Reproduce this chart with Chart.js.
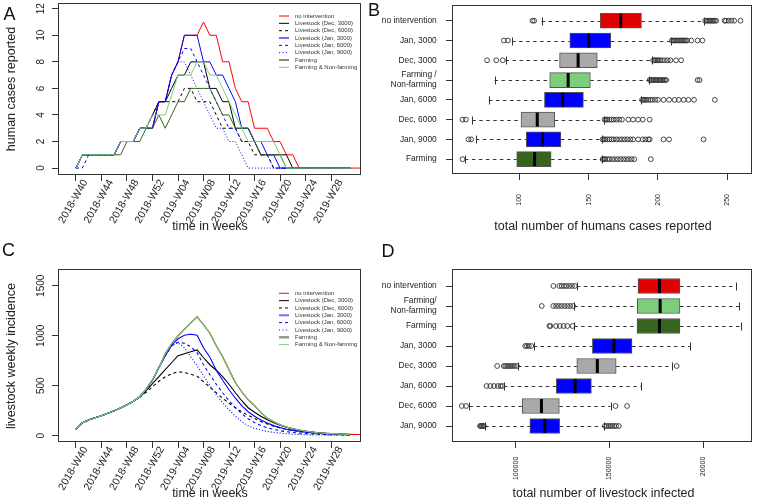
<!DOCTYPE html>
<html><head><meta charset="utf-8">
<script src="https://cdn.jsdelivr.net/npm/chart.js@4.4.1/dist/chart.umd.min.js"></script>
<style>
html,body{margin:0;padding:0;background:#fff;}
#wrap{position:relative;width:757px;height:500px;overflow:hidden;background:#fff;}
#wrap canvas{position:absolute;left:0;top:0;}
</style></head><body>
<div id="wrap">
<canvas id="cA" width="757" height="500"></canvas>
<canvas id="cB" width="757" height="500"></canvas>
<canvas id="cC" width="757" height="500"></canvas>
<canvas id="cD" width="757" height="500"></canvas>
</div>
<script>
// ================= DATA =================
const weekTickPos = [0, 4, 8, 12, 16, 20, 24, 28, 32, 36, 40];
const weekTickLabels = ['2018-W40','2018-W44','2018-W48','2018-W52','2019-W04','2019-W08','2019-W12','2019-W16','2019-W20','2019-W24','2019-W28'];
const scenarioNames = ['no intervention','Livestock (Dec, 3000)','Livestock (Dec, 6000)','Livestock (Jan, 3000)','Livestock (Jan, 6000)','Livestock (Jan, 9000)','Farming','Farming & Non-farming'];

// panel A: human cases reported per week (week index 0 = 2018-W40)
const humanNoIntervention = [0,1,1,1,1,1,1,2,2,2, 3,3,3,5,5,7,8,10,10,10, 11,10,10,8,8,6,5,5,3,3, 3,2,2,1,1,0,0,0,0,0, 0,0,0,0,0,0];
const humanDec3000 = [0,1,1,1,1,1,1,2,2,2, 3,3,4,5,5,6,7,7,8,8, 8,6,6,5,5,3,3,3,2,1, 1,1,1,1,0,0,0,0,0,0, 0,0,0,0];
const humanDec6000 = [0,1,1,1,1,1,1,2,2,2, 3,3,4,5,5,5,5,6,6,5, 5,5,4,3,3,3,2,2,1,1, 1,0,0,0,0,0,0,0,0,0, 0,0,0,0];
const humanJan3000 = [0,1,1,1,1,1,1,2,2,2, 3,3,3,5,5,7,8,10,10,10, 8,8,7,7,6,5,3,3,2,2, 1,1,0,0,0,0,0,0,0,0, 0,0,0,0];
const humanJan6000 = [0,0,1,1,1,1,1,2,2,2, 3,3,3,5,5,7,8,9,9,8, 7,6,5,4,3,3,2,2,2,1, 1,0,0,0,0,0,0,0,0,0, 0,0,0,0];
const humanJan9000 = [0,1,1,1,1,1,1,2,2,2, 3,3,3,5,5,7,8,8,7,6, 5,4,3,3,2,2,1,0,0,0, 0,0,0,0,0,0,0,0,0,0, 0,0,0,0];
const humanFarming = [0,1,1,1,1,1,1,1,2,2, 2,3,3,4,3,4,5,5,6,6, 6,6,5,4,4,3,3,3,2,1, 1,1,1,0,0,0,0,0,0,0, 0,0,0,0];
const humanFarmNonFarm = [0,1,1,1,1,1,1,2,2,2, 3,3,4,4,4,5.5,7,7,7,8, 8,7,7,6,5,4,3,2,2,2, 2,2,1,0,0,0,0,0,0,0, 0,0,0,0];
const humanYTicks = [0, 2, 4, 6, 8, 10, 12];

// panel C: livestock weekly incidence
const livestockNoIntervention = [63,130,157,180,200,225,250,278,310,345, 390,465,560,680,820,920,1000,1064,1128,1190, 1110,1025,900,790,660,530,440,360,300,230, 175,140,110,88,70,57,46,37,30,25, 21,18,15,13,12,11];
const livestockDec3000 = [63,130,157,180,200,225,250,278,310,345, 385,450,520,590,660,730,800,820,840,858, 780,710,655,590,515,430,350,280,235,195, 160,130,105,85,68,55,45,37,30,25, 20,17,14,12];
const livestockDec6000 = [63,130,157,180,200,225,250,278,310,345, 385,435,490,545,590,620,640,632,615,595, 540,485,430,375,325,280,240,205,172,142, 117,96,78,63,51,42,34,28,23,19, 16,13,11,10];
const livestockJan3000 = [63,130,157,180,200,225,250,278,310,345, 390,465,555,680,800,905,970,1005,1015,1005, 880,785,655,555,460,375,300,240,195,158, 127,101,81,65,53,44,36,30,25,21, 17,15,13,11];
const livestockJan6000 = [63,130,157,180,200,225,250,278,310,345, 390,465,555,680,800,900,935,925,890,830, 710,610,515,430,350,280,220,170,132,102, 80,63,50,40,32,26,21,17,14,12, 10,8,7,6];
const livestockJan9000 = [63,130,157,180,200,225,250,278,310,345, 390,465,555,680,800,900,930,880,790,700, 600,500,410,330,260,195,140,100,74,56, 43,33,26,20,16,13,10,8,7,6, 5,4,4,3];
const livestockFarming = [63,130,157,180,200,225,250,278,310,345, 390,465,560,680,820,920,1000,1064,1128,1190, 1110,1025,900,790,660,530,440,360,300,230, 175,140,110,88,70,57,46,37,30,25, 21,18,15,13];
const livestockFarmNonFarm = [63,130,157,180,200,225,250,278,310,345, 390,465,560,680,820,920,1000,1064,1128,1190, 1110,1025,900,790,660,530,440,360,300,230, 175,140,110,88,70,57,46,37,30,25, 21,18,15,13];
const livestockYTicks = [0, 500, 1000, 1500];

// panel B: total human cases, [lower whisker, Q1, median, Q3, upper whisker]
const humanBoxLabels = ['no intervention','Jan, 3000','Dec, 3000','Farming /\nNon-farming','Jan, 6000','Dec, 6000','Jan, 9000','Farming'];
const humanBoxStats = [
  [116, 158.3, 173.1, 188.1, 233],
  [94.8, 136.4, 150, 166, 209.5],
  [90, 129, 142.4, 156.2, 195.7],
  [82.1, 121.9, 135.2, 151.2, 193.6],
  [78.1, 118.1, 131.2, 146.2, 188],
  [66, 101.2, 112.9, 125.5, 161.2],
  [68.6, 105, 116.7, 130, 159.5],
  [60.7, 98.1, 111, 122.9, 159.5]
];
const humanBoxOutliers = [
  [109.5, 110.7, 234, 235, 236, 237, 238, 239, 240, 241, 242, 248, 249, 251, 253, 255, 259.5],
  [88.8, 91.7, 210, 211, 212, 213, 214, 215, 216, 217, 218, 219, 220, 221, 224, 228.6, 232],
  [76.7, 83.3, 88, 196.5, 197.5, 198.5, 199.5, 200.5, 201.5, 203, 205, 207, 209, 213, 216.7],
  [194, 195, 196, 197, 198, 199, 200, 201, 202, 203, 204, 205, 206, 228.6, 230],
  [188.5, 189.5, 190.5, 191.5, 193, 194.5, 196, 198, 200, 204, 208, 212, 215, 218.6, 222, 226, 241],
  [59, 61.4, 161.5, 162.5, 163.5, 165, 166.5, 168, 170, 172, 174, 178.6, 182, 185.7, 189, 194],
  [63.3, 65.2, 160, 161, 162, 163.5, 165, 166.5, 168, 170, 172, 174, 176, 178, 180, 182, 185.7, 189, 191, 193, 194, 204, 208, 232.9],
  [59, 160, 161, 162, 163.5, 165, 167, 169, 171, 173, 175, 177, 179, 181, 182.9, 194.8]
];
const humanBoxTicks = [100, 150, 200, 250];
const humanBoxTickLabels = ['100', '150', '200', '250'];

// panel D: total livestock infected
const livestockBoxLabels = ['no intervention','Farming/\nNon-farming','Farming','Jan, 3000','Dec, 3000','Jan, 6000','Dec, 6000','Jan, 9000'];
const livestockBoxStats = [
  [132570, 165140, 176590, 187500, 217080],
  [131160, 164790, 176940, 187500, 218840],
  [131160, 164600, 176600, 187500, 220070],
  [109500, 140850, 152290, 161970, 192780],
  [101230, 132570, 143490, 153520, 183100],
  [93660, 121650, 131690, 140320, 166730],
  [75350, 103520, 113730, 123240, 150530],
  [83800, 107570, 115490, 123420, 147000]
];
const livestockBoxOutliers = [
  [120070, 123240, 124500, 125800, 127000, 128500, 130000, 131500],
  [113900, 120000, 121500, 123000, 124500, 126000, 127500, 129000, 130600],
  [117960, 118500, 121500, 123500, 125500, 127500, 130280],
  [105100, 106000, 107000, 108300],
  [90140, 93660, 94500, 95500, 96500, 97500, 98500, 99500, 100700, 185740],
  [84500, 86500, 88500, 90500, 92000, 92960],
  [71300, 73600, 153170, 159330],
  [81000, 81500, 82000, 82600, 83100, 147500, 148500, 149500, 150500, 151500, 152500, 153500, 154930]
];
const livestockBoxTicks = [100000, 150000, 200000];
const livestockBoxTickLabels = ['100000', '150000', '20000'];

// ================= STYLE =================
const W = 757, H = 500, AX = 8;
const FONT = '"Liberation Sans", Arial, Helvetica, sans-serif';
const INK = '#222';
const RED = '#ff0000', BLUE = '#0000ff', DKGREEN = '#35641f', LTGREEN = '#7ccd7c';
const lineStyles = [
  {color: RED, dash: []},
  {color: '#000000', dash: []},
  {color: '#000000', dash: [3, 3]},
  {color: BLUE, dash: []},
  {color: BLUE, dash: [3, 3]},
  {color: BLUE, dash: [1, 2]},
  {color: DKGREEN, dash: []},
  {color: LTGREEN, dash: []}
];
const legendStylesA = [
  {c: RED, w: 1}, {c: '#000', w: 1}, {c: '#000', w: 1, d: [3, 3]}, {c: '#7070ff', w: 2},
  {c: BLUE, w: 1, d: [3, 3]}, {c: BLUE, w: 1, d: [1, 2.5]}, {c: '#5c7b4c', w: 1.6}, {c: LTGREEN, w: 1}
];
const legendStylesC = [
  {c: RED, w: 1}, {c: '#000', w: 1}, {c: '#000', w: 1, d: [3, 3]}, {c: '#7070ff', w: 2},
  {c: BLUE, w: 1, d: [3, 3]}, {c: BLUE, w: 1, d: [1, 2.5]}, {c: '#8a9a7a', w: 2.4}, {c: LTGREEN, w: 1}
];
const boxColorsB = ['#e00000', BLUE, '#a9a9a9', LTGREEN, BLUE, '#a9a9a9', BLUE, DKGREEN];
const boxColorsD = ['#e00000', LTGREEN, DKGREEN, BLUE, '#a9a9a9', BLUE, '#a9a9a9', BLUE];

// ================= HELPERS =================
function txt(ctx, s, x, y, size, opt) {
  opt = opt || {};
  ctx.save();
  ctx.font = size + 'px ' + FONT;
  ctx.fillStyle = opt.color || INK;
  ctx.textAlign = opt.align || 'center';
  ctx.textBaseline = opt.baseline || 'middle';
  ctx.translate(x, y);
  if (opt.rot) ctx.rotate(opt.rot);
  ctx.fillText(s, 0, 0);
  ctx.restore();
}
function seg(ctx, x1, y1, x2, y2) { ctx.beginPath(); ctx.moveTo(x1, y1); ctx.lineTo(x2, y2); ctx.stroke(); }

const framePlugin = {
  id: 'frame',
  afterDatasetsDraw(chart) {
    const {ctx, chartArea: a} = chart;
    ctx.save();
    ctx.strokeStyle = '#333'; ctx.lineWidth = 1; ctx.setLineDash([]);
    const l = Math.round(a.left) + 0.5, t = Math.round(a.top) + 0.5, r = Math.round(a.right) - 0.5, b = Math.round(a.bottom) - 0.5;
    ctx.strokeRect(l, t, r - l, b - t);
    ctx.restore();
  }
};

function axisOpts(position, min, max, tickVals, reverse) {
  return {
    type: 'linear', position, min, max, reverse: !!reverse, offset: false,
    afterBuildTicks: s => { s.ticks = tickVals.map(v => ({value: v})); },
    afterFit: s => { if (position === 'bottom') s.height = AX; else s.width = AX; },
    ticks: {display: false},
    grid: {display: true, offset: false, drawOnChartArea: false, drawTicks: true, tickLength: 6, color: '#333', tickColor: '#333', lineWidth: 1},
    border: {display: false}
  };
}

function makeLineChart(id, series, cfg) {
  const a = cfg.area;
  const datasets = series.map((vals, i) => ({
    label: scenarioNames[i],
    data: vals.map((v, k) => ({x: k, y: v})),
    borderColor: lineStyles[i].color,
    borderDash: lineStyles[i].dash,
    borderWidth: cfg.lineWidth,
    pointRadius: 0, tension: 0, fill: false,
    order: series.length - i
  }));
  const decor = {
    id: 'decor' + id,
    afterDraw(chart) {
      const ctx = chart.ctx, xs = chart.scales.x, ys = chart.scales.y, ca = chart.chartArea;
      cfg.yTicks.forEach(v => txt(ctx, String(v), cfg.yLabelX, ys.getPixelForValue(v), 10, {rot: -Math.PI / 2}));
      weekTickPos.forEach((p, i) => txt(ctx, weekTickLabels[i], xs.getPixelForValue(p) + 9.5, ca.bottom + 5.5, 10.5, {rot: -Math.PI / 3, align: 'right'}));
      txt(ctx, 'time in weeks', cfg.xTitle[0], cfg.xTitle[1], 12.5);
      txt(ctx, cfg.yTitle, cfg.yTitlePos[0], cfg.yTitlePos[1], 12.5, {rot: -Math.PI / 2});
      // legend
      cfg.legend.forEach((st, i) => {
        const y = cfg.legendTop + i * 7.33;
        ctx.save();
        ctx.strokeStyle = st.c; ctx.lineWidth = st.w; ctx.setLineDash(st.d || []);
        seg(ctx, 279, y, 289, y);
        ctx.restore();
        txt(ctx, scenarioNames[i], 295, y, 6, {align: 'left', color: '#333'});
      });
      cfg.letters.forEach(L => txt(ctx, L[0], L[1], L[2], 18, {color: '#111'}));
    }
  };
  return new Chart(document.getElementById(id), {
    type: 'line',
    data: {datasets},
    options: {
      responsive: false, animation: false, events: [],
      layout: {padding: {left: a.left - AX, top: a.top, right: W - a.right, bottom: H - a.bottom - AX}},
      plugins: {legend: {display: false}, tooltip: {enabled: false}},
      scales: {
        x: axisOpts('bottom', cfg.xMin, cfg.xMax, weekTickPos),
        y: axisOpts('left', cfg.yMin, cfg.yMax, cfg.yTicks)
      }
    },
    plugins: [framePlugin, decor]
  });
}

function makeBoxChart(id, names, stats, outliers, colors, cfg) {
  const a = cfg.area;
  const rows = names.map((n, i) => i + 1);
  const whiskers = {
    id: 'whisk' + id,
    beforeDatasetsDraw(chart) {
      const ctx = chart.ctx, xs = chart.scales.x, ys = chart.scales.y;
      ctx.save();
      ctx.strokeStyle = '#333'; ctx.lineWidth = 1;
      stats.forEach((s, i) => {
        const y = Math.round(ys.getPixelForValue(rows[i])) + 0.5;
        ctx.setLineDash([3.5, 3.5]);
        seg(ctx, xs.getPixelForValue(s[0]), y, xs.getPixelForValue(s[1]), y);
        seg(ctx, xs.getPixelForValue(s[3]), y, xs.getPixelForValue(s[4]), y);
        ctx.setLineDash([]);
        [s[0], s[4]].forEach(v => { const x = Math.round(xs.getPixelForValue(v)) + 0.5; seg(ctx, x, y - 4, x, y + 4); });
      });
      ctx.restore();
    },
    afterDatasetsDraw(chart) {
      const ctx = chart.ctx, xs = chart.scales.x, ys = chart.scales.y;
      ctx.save();
      ctx.strokeStyle = '#000'; ctx.lineWidth = 3; ctx.setLineDash([]);
      stats.forEach((s, i) => {
        const y = ys.getPixelForValue(rows[i]);
        const x = xs.getPixelForValue(s[2]);
        seg(ctx, x, y - 7, x, y + 7);
      });
      ctx.restore();
    }
  };
  const decor = {
    id: 'decor' + id,
    afterDraw(chart) {
      const ctx = chart.ctx, xs = chart.scales.x, ys = chart.scales.y;
      names.forEach((n, i) => {
        const parts = n.split('\n');
        const py = ys.getPixelForValue(rows[i]);
        parts.forEach((p, j) => txt(ctx, p, cfg.catLabelX, py + (j - (parts.length - 1) / 2) * 10, 8.4, {align: 'right'}));
      });
      cfg.xTicks.forEach((v, i) => txt(ctx, cfg.xTickLabels[i], xs.getPixelForValue(v), cfg.tickLabelEndY, 7, {rot: -Math.PI / 2, align: 'right'}));
      txt(ctx, cfg.xTitle, cfg.xTitlePos[0], cfg.xTitlePos[1], 12.5);
      cfg.letters.forEach(L => txt(ctx, L[0], L[1], L[2], 18, {color: '#111'}));
    }
  };
  return new Chart(document.getElementById(id), {
    type: 'bar',
    data: {
      datasets: [
        {
          type: 'bar', indexAxis: 'y',
          data: stats.map((s, i) => ({x: [s[1], s[3]], y: rows[i]})),
          backgroundColor: colors, borderColor: '#555', borderWidth: 1, borderSkipped: false,
          barThickness: 15, order: 2
        },
        {
          type: 'scatter',
          data: outliers.flatMap((arr, i) => arr.map(v => ({x: v, y: rows[i]}))),
          pointStyle: 'circle', pointRadius: 2.4, pointBorderWidth: 0.9,
          pointBorderColor: '#333', pointBackgroundColor: 'rgba(0,0,0,0)', order: 1
        }
      ]
    },
    options: {
      indexAxis: 'y',
      responsive: false, animation: false, events: [],
      layout: {padding: {left: a.left - AX, top: a.top, right: W - a.right, bottom: H - a.bottom - AX}},
      plugins: {legend: {display: false}, tooltip: {enabled: false}},
      scales: {
        x: axisOpts('bottom', cfg.xMin, cfg.xMax, cfg.xTicks),
        y: axisOpts('left', cfg.yMin, cfg.yMax, rows, true)
      }
    },
    plugins: [whiskers, framePlugin, decor]
  });
}

// ================= CHARTS =================
makeLineChart('cA',
  [humanNoIntervention, humanDec3000, humanDec6000, humanJan3000, humanJan6000, humanJan9000, humanFarming, humanFarmNonFarm],
  {area: {left: 58, top: 3, right: 361, bottom: 175}, xMin: -2.82, xMax: 44.7, yMin: -0.52, yMax: 12.43,
   yTicks: humanYTicks, yLabelX: 41.7, lineWidth: 1, xTitle: [210, 226.7], yTitle: 'human cases reported', yTitlePos: [12, 89],
   legend: legendStylesA, legendTop: 16, letters: [['A', 9.5, 15.5], ['B', 374, 11]]});

makeBoxChart('cB', humanBoxLabels, humanBoxStats, humanBoxOutliers, boxColorsB,
  {area: {left: 452, top: 3, right: 755, bottom: 174}, xMin: 51.4, xMax: 267.9, yMin: 0.2, yMax: 8.75,
   xTicks: humanBoxTicks, xTickLabels: humanBoxTickLabels, catLabelX: 436.7, tickLabelEndY: 194,
   xTitle: 'total number of humans cases reported', xTitlePos: [603, 226.7], letters: []});

makeLineChart('cC',
  [livestockNoIntervention, livestockDec3000, livestockDec6000, livestockJan3000, livestockJan6000, livestockJan9000, livestockFarming, livestockFarmNonFarm],
  {area: {left: 58, top: 269, right: 361, bottom: 442}, xMin: -2.82, xMax: 44.7, yMin: -63, yMax: 1668,
   yTicks: livestockYTicks, yLabelX: 41.7, lineWidth: 1.1, xTitle: [210, 493.3], yTitle: 'livestock weekly incidence', yTitlePos: [12, 356],
   legend: legendStylesC, legendTop: 293.3, letters: [['C', 8.5, 251.5], ['D', 388, 252.5]]});

makeBoxChart('cD', livestockBoxLabels, livestockBoxStats, livestockBoxOutliers, boxColorsD,
  {area: {left: 452, top: 269, right: 754, bottom: 442}, xMin: 66100, xMax: 225900, yMin: 0.15, yMax: 8.8,
   xTicks: livestockBoxTicks, xTickLabels: livestockBoxTickLabels, catLabelX: 436.7, tickLabelEndY: 456.7,
   xTitle: 'total number of livestock infected', xTitlePos: [603.5, 493.3], letters: []});
</script>
</body></html>
